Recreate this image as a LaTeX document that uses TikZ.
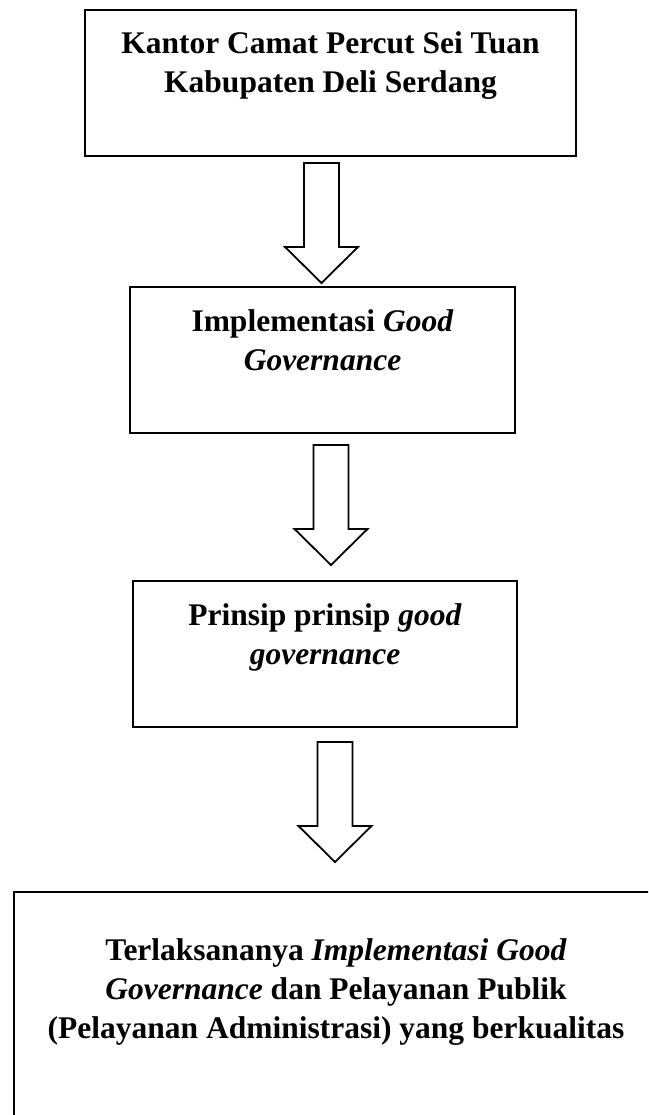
\documentclass[tikz,border=0pt]{standalone}
\usepackage{fontspec}
\setmainfont{Liberation Serif}
% centred lines, baseline on the first one
\newcommand{\boxtext}[1]{\begin{tabular}[t]{@{}c@{}}#1\end{tabular}}

\begin{document}
\begin{tikzpicture}[x=1pt,y=-1pt,
  box/.style={draw,line width=2pt,anchor=north,inner sep=0pt,
              font=\fontsize{31.5}{39}\selectfont\bfseries,
              text height=44pt,text depth=102pt},
  blockdown/.pic={\draw[line width=1.8pt,fill=white]
    (-17.5,0) -- (17.5,0) -- (17.5,84) -- (36.5,84) -- (0,120)
    -- (-36.5,84) -- (-17.5,84) -- cycle;}]
\fill[white] (0,0) rectangle (648,1115);
\useasboundingbox (0,0) rectangle (648,1115);

\node[box,minimum width=491pt] (office) at (330.5,9)
  {\boxtext{Kantor Camat Percut Sei Tuan\\Kabupaten Deli Serdang}};
\node[box,minimum width=385pt] (impl) at (322.5,286)
  {\boxtext{Implementasi \textit{Good}\\\textit{Governance}}};
\node[box,minimum width=384pt] (principle) at (325,580)
  {\boxtext{Prinsip prinsip \textit{good}\\\textit{governance}}};
% last box runs off the page on the right and at the bottom
\begin{scope}
\clip (0,0) rectangle (648,1115);
\node[box,minimum width=644pt,text height=68pt,text depth=200pt] (result) at (336,891)
  {\boxtext{Terlaksananya \textit{Implementasi Good}\\
   \textit{Governance} dan Pelayanan Publik\\
   (Pelayanan Administrasi) yang berkualitas}};
\end{scope}

% hollow arrows between the boxes
\coordinate (t1) at (321.5,163);
\coordinate (t2) at (331,445);
\coordinate (t3) at (335,742);
\pic at (t1) {blockdown};
\pic at (t2) {blockdown};
\pic at (t3) {blockdown};
\end{tikzpicture}
\end{document}
